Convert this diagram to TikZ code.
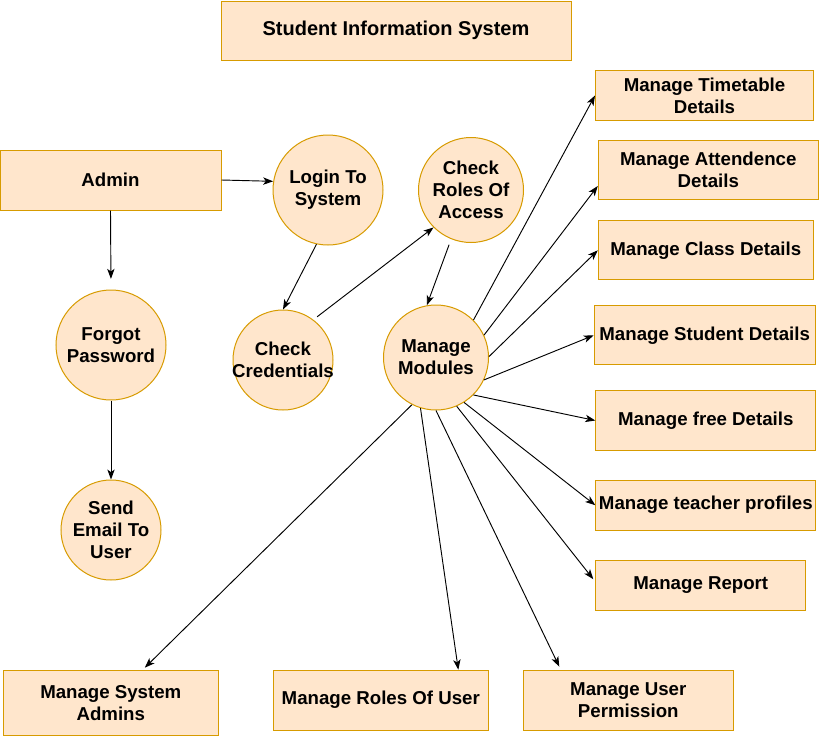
\documentclass[tikz,border=0pt]{standalone}
\usepackage{fontspec}
\setmainfont{Liberation Sans}
\usetikzlibrary{arrows.meta,calc}
\definecolor{boxfill}{HTML}{FFE6CC}
\definecolor{boxline}{HTML}{D79B00}
\begin{document}
\begin{tikzpicture}[x=0.75pt,y=-0.75pt,
  every node/.style={font=\bfseries\fontsize{14}{16.5}\selectfont, text=black, align=center, inner sep=0pt},
  entity/.style={draw=boxline, fill=boxfill, line width=0.75pt, rectangle},
  process/.style={draw=boxline, fill=boxfill, line width=0.75pt, circle},
  flow/.style={draw=black, line width=0.7pt, -{Stealth[length=7.5pt,width=5.5pt,inset=2pt]}}]
\useasboundingbox (0,0) rectangle (819,736);

% title
\node[entity, minimum width=262.5pt, minimum height=44.25pt, font=\bfseries\fontsize{15}{18}\selectfont] (title) at (396,30.5) {Student Information System};

% left branch
\node[entity, minimum width=165.75pt, minimum height=45pt] (ad) at (110.5,180) {Admin};
\node[process, minimum size=82.5pt] (fp) at (111,345) {Forgot\\Password};
\node[process, minimum size=75pt] (se) at (111,530) {Send\\Email To\\User};

% login chain
\node[process, minimum size=82.5pt] (li) at (328,190) {Login To\\System};
\node[process, minimum size=75pt] (cc) at (283,360) {Check\\\makebox[40pt]{Credentials}};
\node[process, minimum size=78.75pt] (cr) at (471,190) {Check\\Roles Of\\Access};
\node[process, minimum size=78.75pt] (mm) at (436,357.5) {Manage\\Modules};

% module boxes, right column
\node[entity, minimum width=163.5pt, minimum height=37.5pt] (tt) at (704.5,95.5) {Manage Timetable\\Details};
\node[entity, minimum width=165pt, minimum height=44.25pt] (at) at (708.3,170.3) {Manage Attendence\\Details};
\node[entity, minimum width=161.25pt, minimum height=44.25pt] (cl) at (705.8,250.3) {Manage Class Details};
\node[entity, minimum width=165.75pt, minimum height=44.25pt] (st) at (704.7,335.3) {Manage Student Details};
\node[entity, minimum width=165pt, minimum height=45pt] (fr) at (705.8,420.5) {Manage free Details};
\node[entity, minimum width=165pt, minimum height=37.5pt] (te) at (705.8,505.2) {Manage teacher profiles};
\node[entity, minimum width=157.5pt, minimum height=37.5pt] (rp) at (700.8,585.2) {Manage Report};

% module boxes, bottom row
\node[entity, minimum width=157.5pt, minimum height=45pt] (up) at (628.3,700.2) {Manage User\\Permission};
\node[entity, minimum width=161.25pt, minimum height=45pt] (ru) at (380.8,700.2) {Manage Roles Of User};
\node[entity, minimum width=161.25pt, minimum height=48.75pt] (sa) at (110.8,702.7) {Manage System\\Admins};

% connectors
\draw[flow] (ad.east) -- (li.171);
\draw[flow, shorten >=8pt] (ad.south) -- (fp.north);
\draw[flow] (fp.south) -- (se.north);
\draw[flow] (li.-102) -- (cc.north);
\draw[flow, shorten <=3.5pt] (cc.53) -- (cr.225);
\draw[flow, shorten <=4.5pt] (cr.-112) -- (mm.100);

\draw[flow] (mm.45) -- (tt.west);
\draw[flow] (mm.25) -- ($(at.west)+(0,15.7)$);
\draw[flow] (mm.1) -- (cl.west);
\draw[flow] (mm.-25) -- (st.west);
\draw[flow] (mm.-45) -- (fr.west);
\draw[flow] (mm.-58) -- (te.west);
\draw[flow] (mm.-67) -- ($(rp.west)+(-2,-6)$);
\draw[flow] (mm.-90) -- ($(up.north)+(-69,-3)$);
\draw[flow] (mm.-107) -- ($(ru.north)+(77.5,0)$);
\draw[flow] (mm.-117) -- ($(sa.north)+(34,-2)$);
\end{tikzpicture}
\end{document}
